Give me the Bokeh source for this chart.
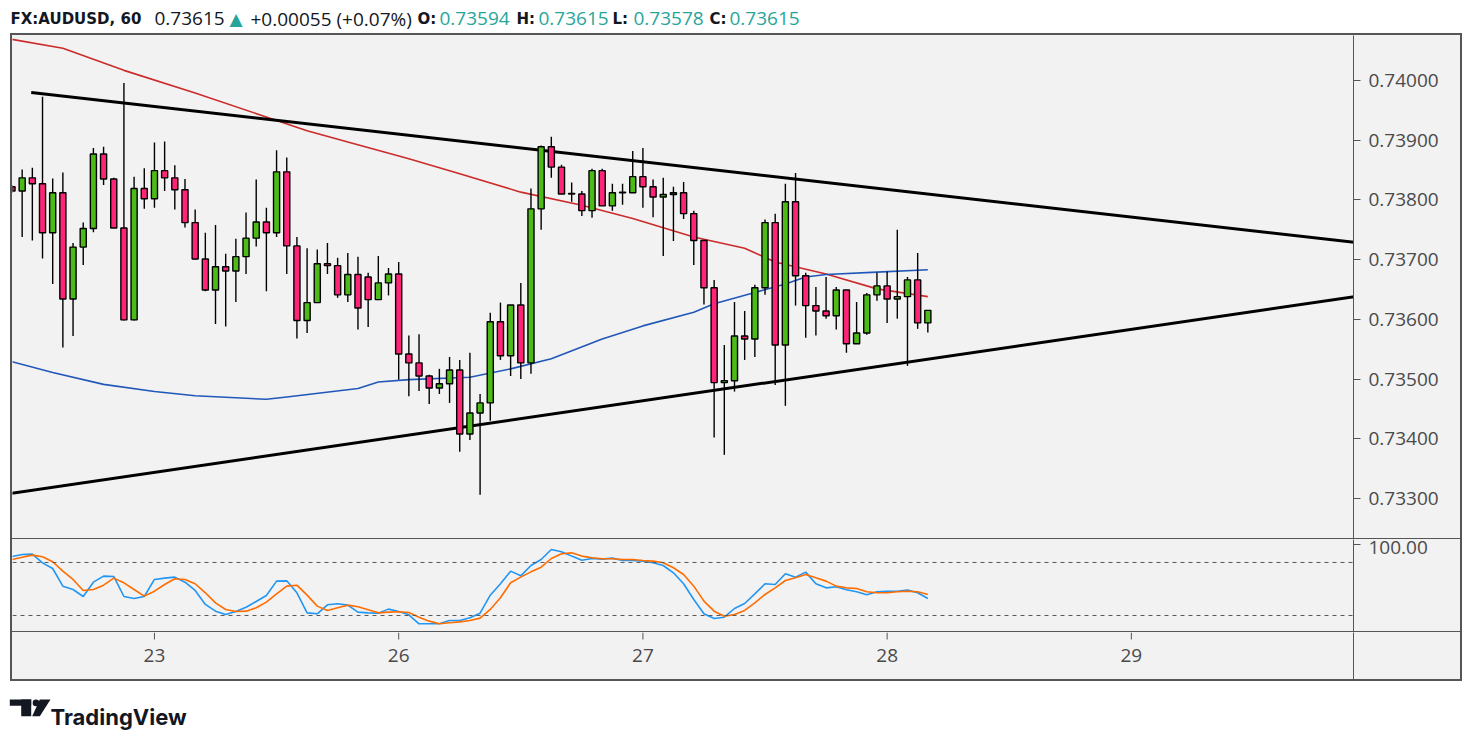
from bokeh.plotting import figure
from bokeh.models import Range1d, FixedTicker, PrintfTickFormatter, Span, ColumnDataSource
from bokeh.layouts import column
from bokeh.embed import file_html
from bokeh.resources import INLINE
from bokeh.core.properties import value

# ---------------- data ----------------
symbol = "FX:AUDUSD, 60"
change = "+0.00055"
change_pct = "(+0.07%)"

opens = [0.73822, 0.73815, 0.73837, 0.73827, 0.73745, 0.73812, 0.73634, 0.73721, 0.73752, 0.73877,
         0.73835, 0.73753, 0.73599, 0.73819, 0.73802, 0.73849, 0.73837, 0.73817, 0.73762, 0.73701,
         0.73649, 0.73688, 0.73681, 0.73705, 0.73736, 0.73763, 0.73745, 0.73847, 0.73723, 0.73598,
         0.73628, 0.73693, 0.73690, 0.73641, 0.73675, 0.73671, 0.73633, 0.73661, 0.73676, 0.73542,
         0.73527, 0.73505, 0.73485, 0.73492, 0.73515, 0.73408, 0.73443, 0.73460, 0.73596, 0.73539,
         0.73624, 0.73527, 0.73785, 0.73889, 0.73855, 0.73810, 0.73810, 0.73782, 0.73849, 0.73790,
         0.73812, 0.73812, 0.73839, 0.73822, 0.73805, 0.73809, 0.73812, 0.73777, 0.73732, 0.73653,
         0.73494, 0.73497, 0.73572, 0.73567, 0.73653, 0.73762, 0.73557, 0.73797, 0.73673, 0.73623,
         0.73614, 0.73606, 0.73649, 0.73559, 0.73577, 0.73641, 0.73656, 0.73634, 0.73638, 0.73666,
         0.73594]
highs = [0.73825, 0.73851, 0.73854, 0.73973, 0.73836, 0.73846, 0.73728, 0.73762, 0.73887, 0.73889,
         0.73837, 0.73996, 0.73839, 0.73853, 0.73896, 0.73898, 0.73858, 0.73835, 0.73784, 0.73745,
         0.73758, 0.73710, 0.73735, 0.73779, 0.73834, 0.73787, 0.73883, 0.73871, 0.73738, 0.73719,
         0.73717, 0.73728, 0.73703, 0.73711, 0.73705, 0.73678, 0.73706, 0.73686, 0.73696, 0.73573,
         0.73575, 0.73507, 0.73517, 0.73537, 0.73532, 0.73544, 0.73475, 0.73611, 0.73628, 0.73624,
         0.73661, 0.73819, 0.73891, 0.73906, 0.73859, 0.73829, 0.73815, 0.73852, 0.73852, 0.73827,
         0.73827, 0.73882, 0.73887, 0.73834, 0.73837, 0.73822, 0.73830, 0.73782, 0.73732, 0.73666,
         0.73557, 0.73629, 0.73614, 0.73658, 0.73767, 0.73777, 0.73827, 0.73845, 0.73678, 0.73654,
         0.73671, 0.73654, 0.73649, 0.73629, 0.73644, 0.73678, 0.73680, 0.73750, 0.73671, 0.73711,
         0.73615]
lows = [0.73812, 0.73738, 0.73732, 0.73702, 0.73659, 0.73553, 0.73572, 0.73691, 0.73746, 0.73825,
        0.73753, 0.73598, 0.73598, 0.73785, 0.73787, 0.73815, 0.73784, 0.73754, 0.73700, 0.73647,
        0.73592, 0.73588, 0.73629, 0.73676, 0.73722, 0.73647, 0.73738, 0.73676, 0.73568, 0.73577,
        0.73628, 0.73676, 0.73636, 0.73629, 0.73583, 0.73587, 0.73633, 0.73640, 0.73499, 0.73471,
        0.73480, 0.73458, 0.73475, 0.73460, 0.73378, 0.73398, 0.73306, 0.73430, 0.73532, 0.73505,
        0.73500, 0.73509, 0.73750, 0.73837, 0.73810, 0.73797, 0.73773, 0.73770, 0.73790, 0.73782,
        0.73792, 0.73812, 0.73787, 0.73771, 0.73706, 0.73731, 0.73768, 0.73691, 0.73625, 0.73402,
        0.73373, 0.73479, 0.73532, 0.73537, 0.73641, 0.73490, 0.73455, 0.73623, 0.73569, 0.73573,
        0.73601, 0.73583, 0.73544, 0.73559, 0.73574, 0.73631, 0.73594, 0.73601, 0.73522, 0.73584,
        0.73578]
closes = [0.73815, 0.73837, 0.73827, 0.73745, 0.73812, 0.73634, 0.73721, 0.73752, 0.73877, 0.73835,
          0.73753, 0.73599, 0.73819, 0.73802, 0.73849, 0.73837, 0.73817, 0.73762, 0.73701, 0.73649,
          0.73688, 0.73681, 0.73705, 0.73736, 0.73763, 0.73745, 0.73847, 0.73723, 0.73598, 0.73628,
          0.73693, 0.73690, 0.73641, 0.73675, 0.73619, 0.73633, 0.73661, 0.73676, 0.73542, 0.73527,
          0.73505, 0.73485, 0.73492, 0.73515, 0.73408, 0.73443, 0.73460, 0.73596, 0.73539, 0.73624,
          0.73527, 0.73785, 0.73889, 0.73855, 0.73810, 0.73811, 0.73782, 0.73849, 0.73790, 0.73812,
          0.73813, 0.73839, 0.73822, 0.73805, 0.73809, 0.73812, 0.73777, 0.73732, 0.73653, 0.73494,
          0.73497, 0.73572, 0.73567, 0.73653, 0.73762, 0.73557, 0.73797, 0.73673, 0.73623, 0.73614,
          0.73606, 0.73649, 0.73559, 0.73577, 0.73641, 0.73656, 0.73634, 0.73638, 0.73666, 0.73594,
          0.73615]

# moving averages, sampled at candle indices
ma_red_idx = [0, 5, 11, 18, 29, 33, 39, 44, 50, 56, 61, 67, 72, 75, 80, 85, 90]
ma_red = [0.74069, 0.74054, 0.74017, 0.73979, 0.73916, 0.73897, 0.73869, 0.73844, 0.73813,
          0.73791, 0.73769, 0.73738, 0.73719, 0.73696, 0.73676, 0.73651, 0.73638]
ma_blue_idx = [0, 4, 9, 14, 18, 25, 27, 34, 36, 39, 45, 49, 53, 58, 62, 67, 69, 73, 76, 78, 80, 85, 90]
ma_blue = [0.73529, 0.73511, 0.73491, 0.73479, 0.73472, 0.73466, 0.73470, 0.73484, 0.73495,
           0.73499, 0.73503, 0.73517, 0.73534, 0.73567, 0.73589, 0.73612, 0.73626, 0.73645,
           0.73659, 0.73671, 0.73675, 0.73679, 0.73683]

# trend lines (anchor points)
upper_idx = [1.89, 131.9]
upper_val = [0.73980, 0.73729]
lower_idx = [-0.25, 131.9]
lower_val = [0.73308, 0.73638]

# stochastic
stoch_k = [86.8, 89.1, 89.4, 79.6, 73.2, 53.2, 49.4, 41.5, 57.7, 64.5, 64.2, 41.5, 39.2, 41.5, 60.8,
           62.3, 63.4, 57.7, 48.3, 32.5, 24.9, 21.1, 24.5, 29.4, 35.8, 42.6, 58.9, 59.2, 45.7, 23.0,
           21.9, 32.1, 33.2, 31.7, 23.8, 23.0, 22.6, 27.2, 24.5, 20.8, 10.6, 10.6, 10.6, 14.3, 14.3,
           17.4, 22.6, 43.0, 55.9, 70.2, 64.9, 76.6, 83.4, 94.7, 92.1, 87.2, 82.6, 84.5, 83.8, 84.9,
           82.3, 82.3, 81.5, 79.6, 76.6, 68.3, 55.9, 38.1, 21.9, 16.6, 18.1, 27.9, 33.6, 44.5, 55.9,
           55.1, 67.2, 63.4, 69.1, 55.9, 51.3, 52.5, 49.1, 46.8, 43.4, 46.8, 47.5, 47.5, 48.7, 45.7,
           39.2]
stoch_d = [83.4, 86.0, 88.3, 86.4, 80.8, 70.2, 60.8, 48.3, 49.4, 54.3, 62.3, 57.0, 49.4, 41.9, 47.5,
           55.1, 61.5, 60.8, 55.9, 45.7, 34.3, 26.8, 24.5, 24.9, 28.7, 35.1, 44.5, 53.2, 54.3, 43.0,
           30.6, 25.7, 28.7, 31.7, 29.8, 26.4, 23.0, 23.8, 24.2, 23.4, 18.1, 13.6, 10.6, 11.7, 12.8,
           14.3, 17.0, 26.8, 40.0, 57.0, 63.4, 69.4, 74.7, 84.5, 89.8, 90.9, 87.2, 85.3, 84.2, 84.2,
           83.4, 83.4, 82.3, 81.5, 79.6, 74.0, 66.4, 53.2, 36.2, 24.9, 19.2, 21.1, 25.7, 34.3, 43.8,
           51.3, 59.6, 62.6, 66.4, 62.6, 58.9, 53.2, 51.3, 50.6, 46.8, 45.7, 45.7, 46.8, 47.5, 46.8,
           43.8]
stoch_levels = [80, 20]

price_ticks = [0.733, 0.734, 0.735, 0.736, 0.737, 0.738, 0.739, 0.740]
stoch_ticks = [100]
day_ticks = [14, 38, 62, 86, 110]
day_labels = ["23", "26", "27", "28", "29"]

# ---------------- styling ----------------
BG = "#f2f2f2"
BORDER = "#555555"
TXT = "#4a4a4a"
FONT = "Open Sans"
BOLD_FONT = "DejaVu Sans"
UP = "#4cbb17"
DOWN = "#ff2478"
TEAL = "#26a69a"
INK = "#131722"

idx = list(range(len(closes)))
src = ColumnDataSource(dict(
    x=idx, o=opens, h=highs, l=lows, c=closes,
    top=[max(a, b) for a, b in zip(opens, closes)],
    bot=[min(a, b) for a, b in zip(opens, closes)],
    col=[UP if c >= o else DOWN for o, c in zip(opens, closes)],
))

xr = Range1d(0.05, 131.83)


def style_axis(ax):
    ax.axis_line_color = BORDER
    ax.major_tick_line_color = BORDER
    ax.major_tick_out = 7
    ax.major_tick_in = 0
    ax.minor_tick_line_color = None
    ax.major_label_text_font = FONT
    ax.major_label_text_font_size = "19px"
    ax.major_label_text_color = TXT
    ax.major_label_standoff = 8


def blank(w, h):
    f = figure(width=w, height=h, x_range=Range1d(0, w), y_range=Range1d(0, h),
               output_backend="svg", toolbar_location=None, min_border=0,
               x_axis_location=None, y_axis_location=None)
    f.outline_line_color = None
    f.grid.visible = False
    f.background_fill_color = "white"
    f.border_fill_color = "white"
    return f


# ---- header ----
hdr = blank(1471, 33)
base = 14.7
hdr.text(x=[10], y=[base], text=[symbol], text_font=value(BOLD_FONT), text_font_size="15px",
         text_font_style="bold", text_color=INK, text_baseline="alphabetic")
hdr.text(x=[154], y=[base], text=[f"{closes[-1]:.5f}"], text_font=value(FONT), text_font_size="19px",
         text_color=INK, text_baseline="alphabetic")
hdr.text(x=[229], y=[base], text=["▲"], text_font=value("DejaVu Sans"), text_font_size="17px",
         text_color=TEAL, text_baseline="alphabetic")
hdr.text(x=[250], y=[base], text=[f"{change} {change_pct}"], text_font=value(FONT),
         text_font_size="19px", text_color=INK, text_baseline="alphabetic")
lab_x = [417, 516, 612, 709]
val_x = [439, 538, 633, 729]
hdr.text(x=lab_x, y=[base] * 4, text=["O:", "H:", "L:", "C:"], text_font=value(BOLD_FONT),
         text_font_size="15px", text_font_style="bold", text_color=INK, text_baseline="alphabetic")
hdr.text(x=val_x, y=[base] * 4,
         text=[f"{opens[-1]:.5f}", f"{highs[-1]:.5f}", f"{lows[-1]:.5f}", f"{closes[-1]:.5f}"],
         text_font=value(FONT), text_font_size="19px", text_color=TEAL, text_baseline="alphabetic")

# ---- price panel ----
price = figure(width=1448, height=504, x_range=xr, y_range=Range1d(0.732312, 0.740754),
               output_backend="svg", toolbar_location=None,
               min_border_left=0, min_border_right=107, min_border_top=0, min_border_bottom=0,
               x_axis_location=None, y_axis_location="right")
price.outline_line_color = None
price.grid.visible = False
price.background_fill_color = BG
price.border_fill_color = BG
price.yaxis.ticker = FixedTicker(ticks=price_ticks)
price.yaxis.formatter = PrintfTickFormatter(format="%.5f")
style_axis(price.yaxis[0])
price.styles = {"border-bottom": "1px solid " + BORDER}

price.line(ma_red_idx, ma_red, line_color="#cc2b2b", line_width=1.6)
price.line(ma_blue_idx, ma_blue, line_color="#2157b8", line_width=1.6)
price.line(upper_idx, upper_val, line_color="black", line_width=3)
price.line(lower_idx, lower_val, line_color="black", line_width=3)
price.segment(x0="x", y0="l", x1="x", y1="h", source=src, line_color="black", line_width=1.4)
price.vbar(x="x", width=0.6, top="top", bottom="bot", source=src, fill_color="col",
           line_color="black", line_width=1.4)

# ---- stochastic panel ----
stoch = figure(width=1448, height=93, x_range=xr, y_range=Range1d(0.75, 106.0),
               output_backend="svg", toolbar_location=None,
               min_border_left=0, min_border_right=107, min_border_top=0, min_border_bottom=0,
               x_axis_location=None, y_axis_location="right")
stoch.outline_line_color = None
stoch.grid.visible = False
stoch.background_fill_color = BG
stoch.border_fill_color = BG
stoch.yaxis.ticker = FixedTicker(ticks=stoch_ticks)
stoch.yaxis.formatter = PrintfTickFormatter(format="%.2f")
style_axis(stoch.yaxis[0])
stoch.styles = {"border-bottom": "1px solid " + BORDER}
for lv in stoch_levels:
    stoch.add_layout(Span(location=lv, dimension="width", line_color="#5a5a5a",
                          line_dash="4 4", line_width=1))
stoch.line(idx, stoch_k, line_color="#2196f3", line_width=1.6)
stoch.line(idx, stoch_d, line_color="#ff6d00", line_width=1.6)

# ---- time axis strip (day ticks and labels on the shared x scale) ----
taxis = figure(width=1448, height=47, x_range=xr, y_range=Range1d(0, 47),
               output_backend="svg", toolbar_location=None,
               min_border_left=0, min_border_right=107, min_border_top=0, min_border_bottom=0,
               x_axis_location=None, y_axis_location="right")
taxis.outline_line_color = None
taxis.grid.visible = False
taxis.background_fill_color = BG
taxis.border_fill_color = BG
taxis.yaxis.ticker = FixedTicker(ticks=[])
taxis.yaxis.axis_line_color = BORDER
taxis.yaxis.major_tick_line_color = None
taxis.yaxis.minor_tick_line_color = None
taxis.yaxis.major_label_text_font_size = "0px"
taxis.segment(x0=day_ticks, y0=[47] * len(day_ticks), x1=day_ticks, y1=[40] * len(day_ticks),
              line_color=BORDER, line_width=1)
taxis.text(x=day_ticks, y=[24] * len(day_ticks), text=day_labels, text_font=value(FONT),
           text_font_size="19px", text_color=TXT, text_align="center", text_baseline="middle")

box = column(price, stoch, taxis,
             styles={"border": "2px solid " + BORDER, "margin-left": "10px",
                     "background-color": BG})

# ---- footer (logo) ----
ftr = blank(1471, 50)
ftr.quad(left=[9.3, 20.7], right=[30.7, 30.7], top=[32, 32], bottom=[25.7, 15.3],
         fill_color=INK, line_color=None)
ftr.ellipse(x=[35.5], y=[28.6], width=6.6, height=6.6, fill_color=INK, line_color=None)
ftr.patch(x=[39.3, 50.0, 39.3, 31.7], y=[32, 32, 15.3, 15.3], fill_color=INK, line_color=None)
ftr.text(x=[50], y=[15], text=["TradingView"], text_font=value("Inter"), text_font_size="22px",
         text_font_style="bold", text_color=INK, text_baseline="alphabetic")

layout = column(hdr, box, ftr)
open("out.html", "w").write(file_html(layout, INLINE))
